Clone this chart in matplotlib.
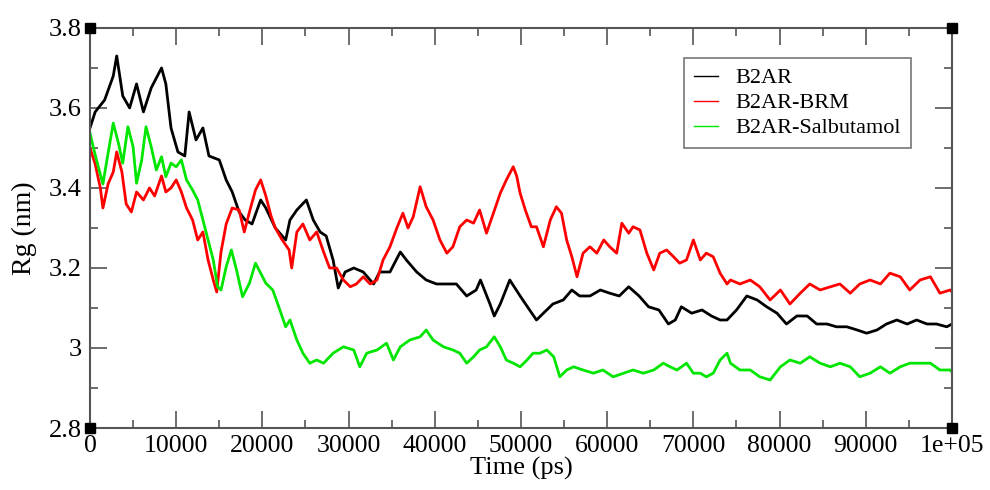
import matplotlib
matplotlib.use("Agg")
import matplotlib.pyplot as plt
from matplotlib.ticker import MultipleLocator

# ---- data (time in ps, Rg in nm) ----
b2ar_t = [0, 600, 1700, 2700, 3100, 3800, 4600, 5400, 6200, 7100, 8300, 8800, 9400,
          10200, 11000, 11500, 12300, 13100, 13800, 15000, 15800, 16500, 17300, 18000,
          18800, 19800, 20400, 21500, 22700, 23200, 24000, 25100, 25900, 26700, 27400,
          28200, 28800, 29600, 30600, 31700, 32900, 33600, 34800, 36000, 36700, 37900,
          39000, 40200, 41400, 42500, 43700, 44800, 45300, 46400, 46900, 47600, 48700,
          49900, 51000, 51800, 52600, 53700, 54900, 55900, 56800, 58000, 59200, 60300,
          61400, 62500, 63700, 64800, 66000, 67100, 67900, 68600, 69800, 71000, 72100,
          73100, 73900, 75000, 76200, 77400, 78500, 79700, 80800, 82000, 83200, 84300,
          85500, 86600, 87800, 89000, 90100, 91300, 92400, 93600, 94800, 95900, 97100,
          98200, 99400, 100000]
b2ar_rg = [3.55, 3.59, 3.62, 3.68, 3.73, 3.63, 3.60, 3.66, 3.59, 3.65, 3.70, 3.66, 3.55,
           3.49, 3.48, 3.59, 3.52, 3.55, 3.48, 3.47, 3.42, 3.39, 3.34, 3.32,
           3.31, 3.37, 3.35, 3.30, 3.27, 3.32, 3.345, 3.37, 3.32, 3.29, 3.28,
           3.22, 3.15, 3.19, 3.20, 3.19, 3.16, 3.19, 3.19, 3.24, 3.22, 3.19,
           3.17, 3.16, 3.16, 3.16, 3.13, 3.145, 3.17, 3.11, 3.08, 3.11, 3.17,
           3.13, 3.095, 3.07, 3.087, 3.11, 3.12, 3.145, 3.13, 3.13, 3.145, 3.137,
           3.13, 3.153, 3.13, 3.103, 3.095, 3.06, 3.07, 3.103, 3.087, 3.095, 3.08,
           3.07, 3.07, 3.095, 3.13, 3.12, 3.103, 3.087, 3.06, 3.08, 3.08, 3.06,
           3.06, 3.053, 3.053, 3.045, 3.037, 3.045, 3.06, 3.07, 3.06, 3.07, 3.06,
           3.06, 3.053, 3.06]

brm_t = [0, 600, 1200, 1500, 2100, 2700, 3100, 3700, 4200, 4800, 5400, 6200, 6900,
         7500, 8300, 8800, 9400, 10000, 10600, 11200, 11900, 12500, 13100, 13700,
         14300, 14700, 15200, 15800, 16500, 17300, 17900, 18500, 19200, 19800, 20400,
         21000, 21500, 22300, 23100, 23400, 24000, 24700, 25500, 26300, 27100, 27800,
         28600, 29400, 30200, 30900, 31700, 32500, 33300, 34000, 34800, 35600, 36300,
         36900, 37500, 38300, 39000, 39800, 40600, 41400, 42100, 42900, 43700, 44500,
         45200, 46000, 46800, 47600, 48300, 49100, 49500, 49900, 50500, 51200, 51800,
         52600, 53400, 54100, 54700, 55300, 55900, 56500, 57200, 58000, 58800, 59600,
         60300, 61100, 61700, 62500, 63000, 63800, 64600, 65400, 66100, 66900, 67700,
         68400, 69200, 70000, 70800, 71500, 72300, 73100, 73900, 74300, 75400, 76600,
         77700, 78900, 80100, 81200, 82400, 83500, 84700, 85900, 87000, 88200, 89300,
         90500, 91700, 92800, 94000, 95100, 96300, 97500, 98600, 99800, 100000]
brm_rg = [3.50, 3.46, 3.40, 3.35, 3.41, 3.44, 3.49, 3.44, 3.36, 3.34, 3.39, 3.37, 3.40,
          3.38, 3.43, 3.39, 3.40, 3.42, 3.39, 3.35, 3.32, 3.27, 3.29, 3.22,
          3.17, 3.14, 3.24, 3.31, 3.35, 3.345, 3.29, 3.34, 3.395, 3.42, 3.38,
          3.33, 3.30, 3.27, 3.245, 3.20, 3.29, 3.31, 3.27, 3.29, 3.24, 3.20,
          3.20, 3.17, 3.153, 3.16, 3.178, 3.16, 3.17, 3.22, 3.253, 3.30, 3.337,
          3.30, 3.328, 3.403, 3.353, 3.32, 3.27, 3.237, 3.253, 3.303, 3.32, 3.312,
          3.345, 3.287, 3.337, 3.387, 3.42, 3.453, 3.43, 3.387, 3.345, 3.303, 3.303,
          3.253, 3.32, 3.353, 3.337, 3.27, 3.228, 3.178, 3.237, 3.253, 3.237, 3.27,
          3.253, 3.237, 3.312, 3.287, 3.303, 3.295, 3.237, 3.195, 3.237, 3.245, 3.228,
          3.212, 3.22, 3.27, 3.22, 3.237, 3.228, 3.187, 3.16, 3.17, 3.16, 3.17,
          3.153, 3.12, 3.145, 3.11, 3.137, 3.16, 3.145, 3.153, 3.16, 3.137, 3.16,
          3.17, 3.16, 3.187, 3.178, 3.145, 3.17, 3.178, 3.137, 3.145, 3.14]

salb_t = [0, 400, 1000, 1500, 2100, 2700, 3300, 3800, 4400, 5000, 5400, 6000, 6500,
          7100, 7700, 8300, 8800, 9400, 10000, 10600, 11200, 11900, 12500, 13100,
          13700, 14300, 14800, 15200, 15800, 16400, 17000, 17700, 18500, 19200, 19800,
          20400, 21200, 21900, 22700, 23200, 24000, 24700, 25500, 26300, 27100, 28200,
          29400, 30600, 31300, 32100, 33300, 34400, 35200, 36000, 37100, 38300, 39000,
          39800, 41000, 42100, 42900, 43700, 44500, 45200, 46000, 46900, 47600, 48300,
          49100, 49900, 50700, 51400, 52200, 53000, 53800, 54500, 55300, 56100, 57200,
          58400, 59500, 60700, 61900, 63000, 64200, 65400, 66500, 67300, 68100, 69200,
          70000, 70800, 71500, 72300, 73100, 73900, 74300, 75400, 76600, 77700, 78900,
          80100, 81200, 82400, 83500, 84700, 85900, 87000, 88200, 89300, 90500, 91700,
          92800, 94000, 95100, 96300, 97500, 98600, 99800, 100000]
salb_rg = [3.537, 3.50, 3.45, 3.41, 3.487, 3.562, 3.512, 3.462, 3.553, 3.503, 3.412, 3.47, 3.553,
           3.503, 3.445, 3.478, 3.428, 3.462, 3.453, 3.47, 3.42, 3.395, 3.37, 3.32,
           3.27, 3.22, 3.153, 3.145, 3.203, 3.245, 3.195, 3.128, 3.162, 3.212, 3.187,
           3.162, 3.145, 3.103, 3.053, 3.07, 3.02, 2.987, 2.962, 2.97, 2.962, 2.987,
           3.003, 2.995, 2.953, 2.987, 2.995, 3.012, 2.97, 3.003, 3.02, 3.028, 3.045,
           3.02, 3.003, 2.995, 2.987, 2.962, 2.978, 2.995, 3.003, 3.028, 3.003, 2.97,
           2.962, 2.953, 2.97, 2.987, 2.987, 2.995, 2.978, 2.928, 2.945, 2.953, 2.945,
           2.937, 2.945, 2.928, 2.937, 2.945, 2.937, 2.945, 2.962, 2.953, 2.945, 2.962,
           2.937, 2.937, 2.928, 2.937, 2.97, 2.987, 2.962, 2.945, 2.945, 2.928, 2.92,
           2.953, 2.97, 2.962, 2.978, 2.962, 2.953, 2.962, 2.953, 2.928, 2.937, 2.953,
           2.937, 2.953, 2.962, 2.962, 2.962, 2.945, 2.945, 2.94]

series_labels = ["B2AR", "B2AR-BRM", "B2AR-Salbutamol"]
series_colors = ["#000000", "#ff0000", "#00e600"]

x_ticks = [0, 10000, 20000, 30000, 40000, 50000, 60000, 70000, 80000, 90000, 100000]
x_ticklabels = ["0", "10000", "20000", "30000", "40000", "50000", "60000",
                "70000", "80000", "90000", "1e+05"]
y_ticks = [2.8, 3.0, 3.2, 3.4, 3.6, 3.8]
y_ticklabels = ["2.8", "3", "3.2", "3.4", "3.6", "3.8"]

plt.rcParams['font.family'] = ['Liberation Serif', 'DejaVu Serif']

fig = plt.figure(figsize=(9.9, 4.9), dpi=100)
ax = fig.add_axes([0.0909, 0.1265, 0.8707, 0.8165])

for t, v, lab, col in zip([b2ar_t, brm_t, salb_t], [b2ar_rg, brm_rg, salb_rg],
                          series_labels, series_colors):
    ax.plot(t, v, color=col, lw=2.0, label=lab)

ax.set_xlim(0, 100000)
ax.set_ylim(2.8, 3.8)
ax.set_xticks(x_ticks)
ax.set_xticklabels(x_ticklabels)
ax.set_yticks(y_ticks)
ax.set_yticklabels(y_ticklabels)
ax.xaxis.set_minor_locator(MultipleLocator(5000))
ax.yaxis.set_minor_locator(MultipleLocator(0.1))
ax.tick_params(which='both', direction='in', top=True, right=True,
               color='#555555', width=1.2, labelsize=19)
ax.tick_params(axis='x', pad=5, labelsize=18.5)
ax.tick_params(axis='y', pad=6)
ax.tick_params(which='major', length=12)
ax.tick_params(which='minor', length=6)
for s in ax.spines.values():
    s.set_color('#555555')
    s.set_linewidth(1.5)

ax.set_xlabel("Time (ps)", fontsize=19, labelpad=0)
ax.set_ylabel("Rg (nm)", fontsize=20, labelpad=8)

# corner squares (Grace style)
ax.plot([0, 1, 0, 1], [0, 0, 1, 1], 's', color='black', ms=7,
        transform=ax.transAxes, clip_on=False, zorder=5)

leg = ax.legend(loc='upper right', bbox_to_anchor=(0.952, 0.925), fontsize=16,
                frameon=True, fancybox=False, handlelength=1.1, handletextpad=0.75,
                borderpad=0.45, labelspacing=0.2, borderaxespad=0)
leg.get_frame().set_edgecolor('#555555')
leg.get_frame().set_linewidth(1.2)
for h in leg.get_lines():
    h.set_linewidth(1.0)

fig.savefig("out.png", dpi=100)
